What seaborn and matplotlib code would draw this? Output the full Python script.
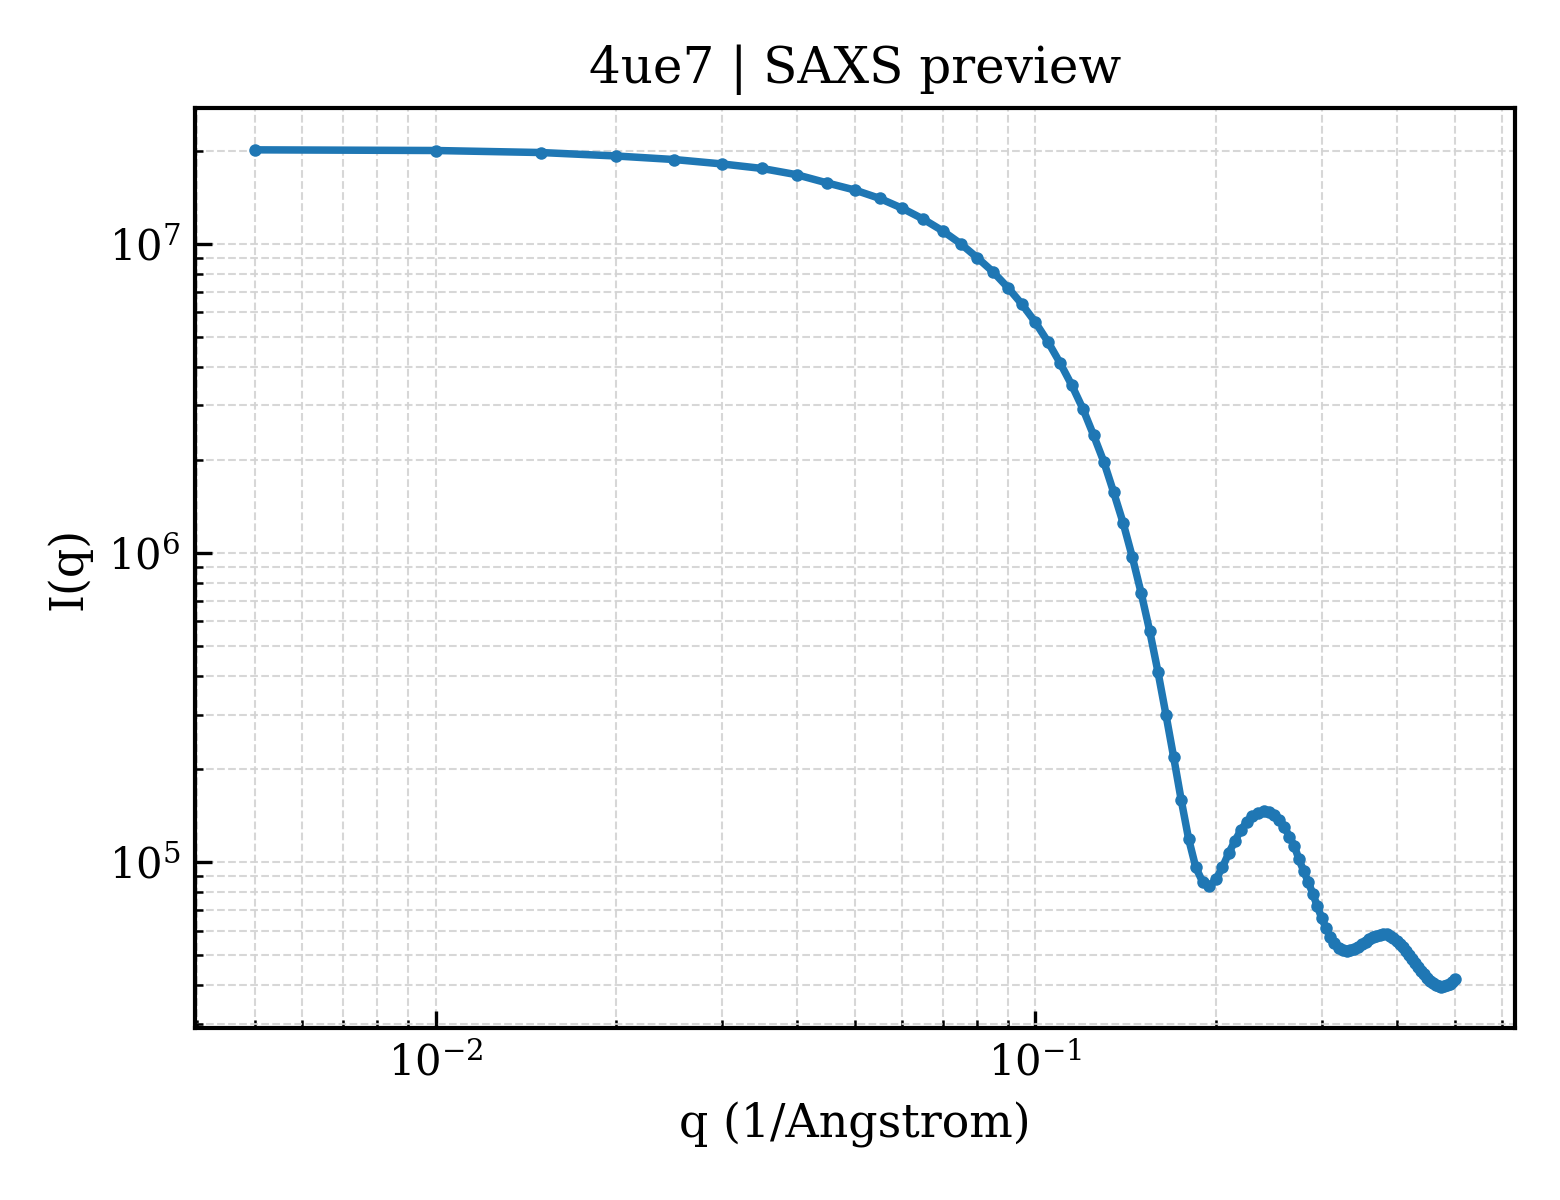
import numpy as np
import pandas as pd
import seaborn as sns
import matplotlib
matplotlib.use("Agg")
import matplotlib.pyplot as plt

# q grid: 0.005 .. 0.5 in steps of 0.005
q_values = [round(0.005 * k, 3) for k in range(1, 101)]

# intensity (log axis), one value per q
intensity = [
    2.01e7, 2.00e7, 1.97e7, 1.92e7, 1.87e7, 1.81e7, 1.75e7, 1.67e7, 1.57e7, 1.49e7,
    1.40e7, 1.30e7, 1.20e7, 1.10e7, 1.00e7, 9.00e6, 8.10e6, 7.20e6, 6.36e6, 5.56e6,
    4.80e6, 4.10e6, 3.48e6, 2.92e6, 2.40e6, 1.97e6, 1.57e6, 1.25e6, 9.71e5, 7.43e5,
    5.60e5, 4.13e5, 3.00e5, 2.18e5, 1.585e5, 1.19e5, 9.63e4, 8.62e4, 8.37e4, 8.81e4,
    9.63e4, 1.07e5, 1.17e5, 1.27e5, 1.35e5, 1.41e5, 1.44e5, 1.46e5, 1.45e5, 1.42e5,
    1.37e5, 1.30e5, 1.21e5, 1.13e5, 1.02e5, 9.36e4, 8.62e4, 7.89e4, 7.21e4, 6.59e4,
    6.12e4, 5.73e4, 5.48e4, 5.28e4, 5.20e4, 5.16e4, 5.20e4, 5.24e4, 5.32e4, 5.44e4,
    5.52e4, 5.65e4, 5.73e4, 5.77e4, 5.82e4, 5.86e4, 5.84e4, 5.77e4, 5.69e4, 5.56e4,
    5.44e4, 5.32e4, 5.16e4, 5.01e4, 4.86e4, 4.72e4, 4.58e4, 4.45e4, 4.34e4, 4.23e4,
    4.13e4, 4.07e4, 4.01e4, 3.98e4, 3.96e4, 3.98e4, 4.00e4, 4.04e4, 4.10e4, 4.20e4,
]

df = pd.DataFrame({"q": q_values, "I": intensity})

sns.set_style("white", {"xtick.direction": "in", "ytick.direction": "in",
                        "xtick.bottom": True, "ytick.left": True})
plt.rcParams['font.family'] = ['DejaVu Serif']
plt.rcParams['mathtext.fontset'] = 'dejavuserif'
plt.rcParams['text.color'] = 'black'
plt.rcParams['axes.labelcolor'] = 'black'
plt.rcParams['xtick.color'] = 'black'
plt.rcParams['ytick.color'] = 'black'

fig, ax = plt.subplots(figsize=(5.2, 4.0), dpi=300)

sns.lineplot(data=df, x="q", y="I", ax=ax, color="#1f77b4", linewidth=1.8,
             marker="o", markersize=3.0, markeredgewidth=0)

ax.set_xscale("log")
ax.set_yscale("log")
ax.margins(0.05)

ax.grid(True, which="both", linestyle="--", linewidth=0.5, color="#d3d3d3", alpha=0.9)
ax.tick_params(which="both", direction="in", top=False, right=False, labelsize=10)
ax.tick_params(which="major", length=4, width=0.8)
ax.tick_params(which="minor", length=2, width=0.6)
for s in ax.spines.values():
    s.set_linewidth(1.0)
    s.set_color("black")

ax.set_title("4ue7 | SAXS preview", fontsize=12)
ax.set_xlabel("q (1/Angstrom)", fontsize=11)
ax.set_ylabel("I(q)", fontsize=11)

fig.subplots_adjust(left=0.125, right=0.971, top=0.91, bottom=0.143)
fig.savefig("out.png", dpi=300)
